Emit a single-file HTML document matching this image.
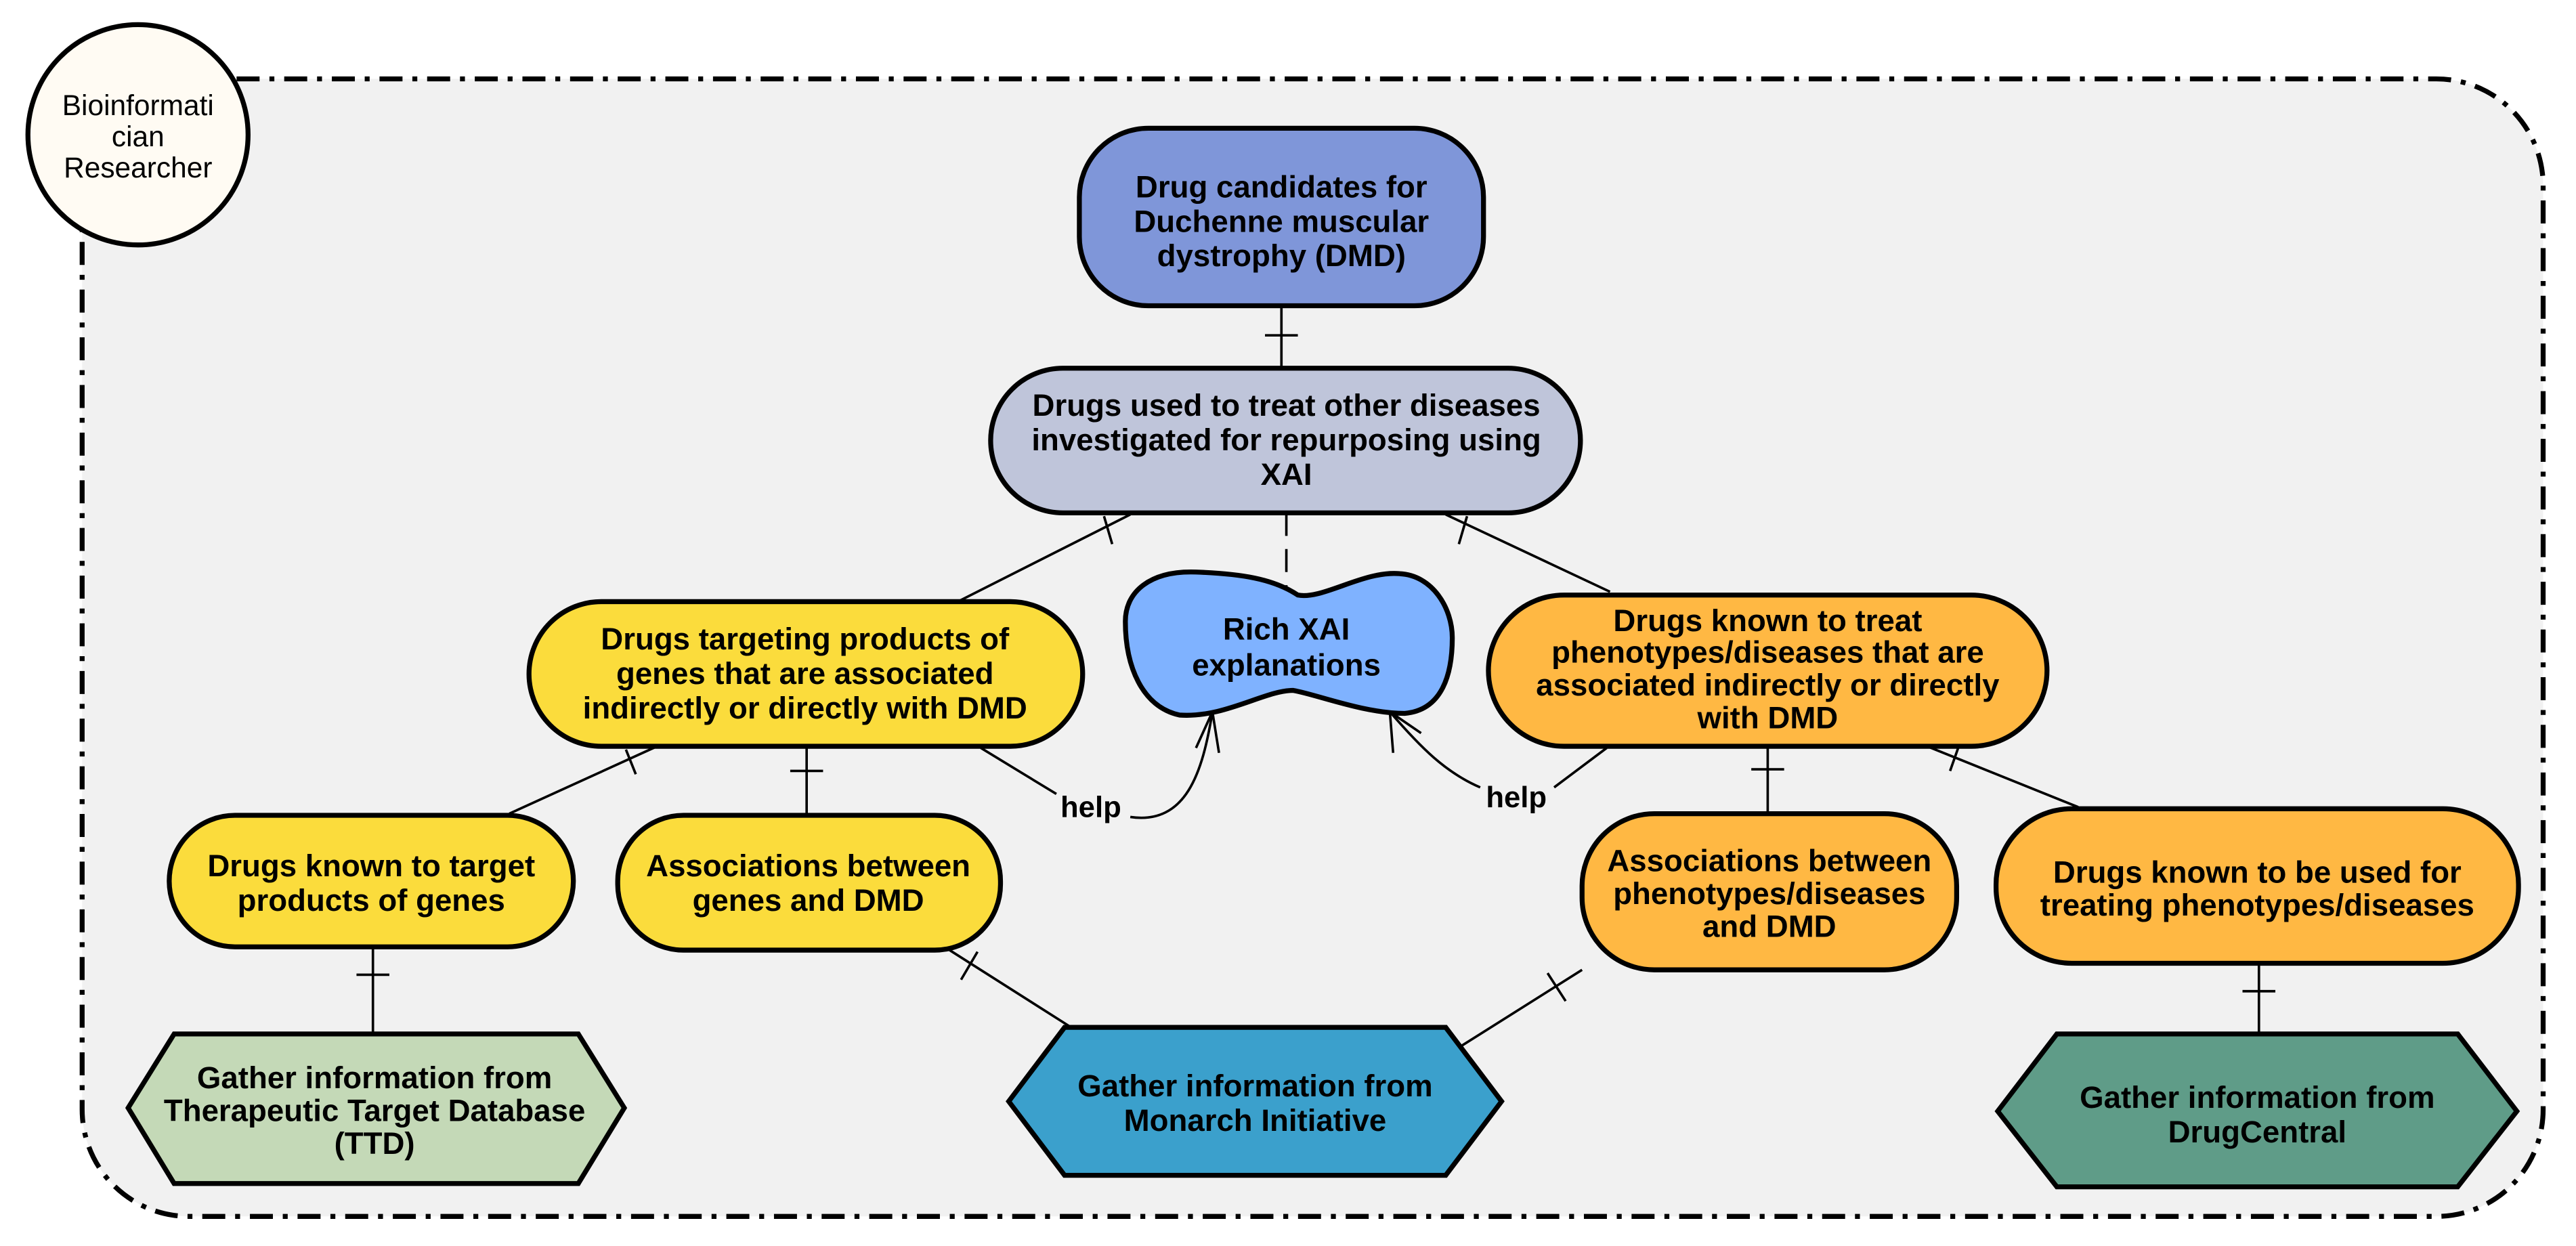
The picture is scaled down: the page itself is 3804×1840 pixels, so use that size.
<!DOCTYPE html>
<html><head><meta charset="utf-8"><style>
html,body{margin:0;padding:0;background:#fff;}
svg{display:block;}
text{font-family:"Liberation Sans",Arial,sans-serif;font-weight:bold;font-size:18.8px;fill:#000;text-anchor:middle;}
.n{stroke:#000;stroke-width:3;}
.l{stroke:#000;stroke-width:1.5;fill:none;}
</style></head><body>
<svg width="3804" height="1840" viewBox="0 0 1568 758" preserveAspectRatio="none" xmlns="http://www.w3.org/2000/svg">
<rect x="0" y="0" width="1568" height="758" fill="#fff"/>
<rect x="50" y="48" width="1498" height="692" rx="65" ry="65" fill="#f1f1f1" stroke="#000" stroke-width="3" stroke-dasharray="14,6,3,6"/>
<circle cx="84" cy="82" r="67" fill="#fffbf3" stroke="#000" stroke-width="3"/>
<text x="84" y="70" style="font-weight:normal;font-size:17.5px">Bioinformati</text>
<text x="84" y="89" style="font-weight:normal;font-size:17.5px">cian</text>
<text x="84" y="108" style="font-weight:normal;font-size:17.5px">Researcher</text>

<!-- connectors -->
<line class="l" x1="780" y1="186" x2="780" y2="224"/><line class="l" x1="770" y1="204" x2="790" y2="204"/>
<line class="l" x1="783" y1="312" x2="783" y2="359" stroke-dasharray="14,8"/>
<line class="l" x1="583" y1="366" x2="688" y2="313"/><line class="l" x1="672" y1="314" x2="677" y2="331"/>
<line class="l" x1="980" y1="360" x2="880" y2="313"/><line class="l" x1="893" y1="314" x2="888" y2="331"/>
<line class="l" x1="310" y1="495" x2="400" y2="454"/><line class="l" x1="381" y1="456" x2="387" y2="471"/>
<line class="l" x1="491" y1="454" x2="491" y2="496"/><line class="l" x1="481" y1="469" x2="501" y2="469"/>
<line class="l" x1="227" y1="576" x2="227" y2="629"/><line class="l" x1="217" y1="593" x2="237" y2="593"/>
<line class="l" x1="578" y1="578" x2="652" y2="625"/><line class="l" x1="595" y1="579" x2="585" y2="596"/>
<line class="l" x1="890" y1="636" x2="963" y2="590"/><line class="l" x1="942" y1="592" x2="953" y2="609"/>
<line class="l" x1="1076" y1="454" x2="1076" y2="495"/><line class="l" x1="1066" y1="468" x2="1086" y2="468"/>
<line class="l" x1="1265" y1="491" x2="1173" y2="454"/><line class="l" x1="1193" y1="452" x2="1187" y2="469"/>
<line class="l" x1="1375" y1="586" x2="1375" y2="629"/><line class="l" x1="1365" y1="603" x2="1385" y2="603"/>
<!-- help -->
<line class="l" x1="597" y1="455" x2="643" y2="483"/>
<text x="664" y="497" style="font-size:18px">help</text>
<path class="l" d="M688 497 C 722 502 732 470 738 433"/>
<path class="l" d="M728 455 L738 433 L742 458"/>
<line class="l" x1="978" y1="455" x2="946" y2="479"/>
<text x="923" y="491" style="font-size:18px">help</text>
<path class="l" d="M901 479 C 880 470 865 455 846 433"/>
<path class="l" d="M848 458 L846 433 L865 446"/>

<!-- nodes -->
<rect class="n" x="657" y="78" width="246" height="108" rx="42" fill="#7f96d9"/>
<text x="780" y="120">Drug candidates for</text>
<text x="780" y="141">Duchenne muscular</text>
<text x="780" y="162">dystrophy (DMD)</text>

<rect class="n" x="603" y="224" width="359" height="88" rx="44" fill="#bfc5da"/>
<text x="783" y="253">Drugs used to treat other diseases</text>
<text x="783" y="274">investigated for repurposing using</text>
<text x="783" y="295">XAI</text>

<path class="n" fill="#7fb2ff" d="M718 435 C 695 430 685 405 685 378 C 685 360 700 347 728 348 C 755 349 775 352 790 362 C 805 365 830 347 852 349 C 872 350 884 370 884 388 C 884 410 878 432 855 434 C 830 434 800 422 787 420 C 770 420 745 437 718 435 Z"/>
<text x="783" y="389">Rich XAI</text>
<text x="783" y="411">explanations</text>

<rect class="n" x="322" y="366" width="337" height="88" rx="44" fill="#fbdc3c"/>
<text x="490" y="395">Drugs targeting products of</text>
<text x="490" y="416">genes that are associated</text>
<text x="490" y="437">indirectly or directly with DMD</text>

<rect class="n" x="906" y="362" width="340" height="92" rx="46" fill="#ffb843"/>
<text x="1076" y="384">Drugs known to treat</text>
<text x="1076" y="403">phenotypes/diseases that are</text>
<text x="1076" y="423">associated indirectly or directly</text>
<text x="1076" y="443">with DMD</text>

<rect class="n" x="103" y="496" width="246" height="80" rx="40" fill="#fbdc3c"/>
<text x="226" y="533">Drugs known to target</text>
<text x="226" y="554">products of genes</text>

<rect class="n" x="376" y="496" width="233" height="82" rx="40" fill="#fbdc3c"/>
<text x="492" y="533">Associations between</text>
<text x="492" y="554">genes and DMD</text>

<rect class="n" x="963" y="495" width="228" height="95" rx="44" fill="#ffb843"/>
<text x="1077" y="530">Associations between</text>
<text x="1077" y="550">phenotypes/diseases</text>
<text x="1077" y="570">and DMD</text>

<rect class="n" x="1215" y="492" width="318" height="94" rx="46" fill="#ffb843"/>
<text x="1374" y="537">Drugs known to be used for</text>
<text x="1374" y="557">treating phenotypes/diseases</text>

<polygon class="n" fill="#c4d9b7" points="78,674 106,629 352,629 380,674 352,720 106,720"/>
<text x="228" y="662">Gather information from</text>
<text x="228" y="682">Therapeutic Target Database</text>
<text x="228" y="702">(TTD)</text>

<polygon class="n" fill="#3ba0cc" points="614,670 648,625 880,625 914,670 880,715 648,715"/>
<text x="764" y="667">Gather information from</text>
<text x="764" y="688">Monarch Initiative</text>

<polygon class="n" fill="#5f9c88" points="1216,676 1252,629 1496,629 1532,676 1496,722 1252,722"/>
<text x="1374" y="674">Gather information from</text>
<text x="1374" y="695">DrugCentral</text>
</svg>
</body></html>
